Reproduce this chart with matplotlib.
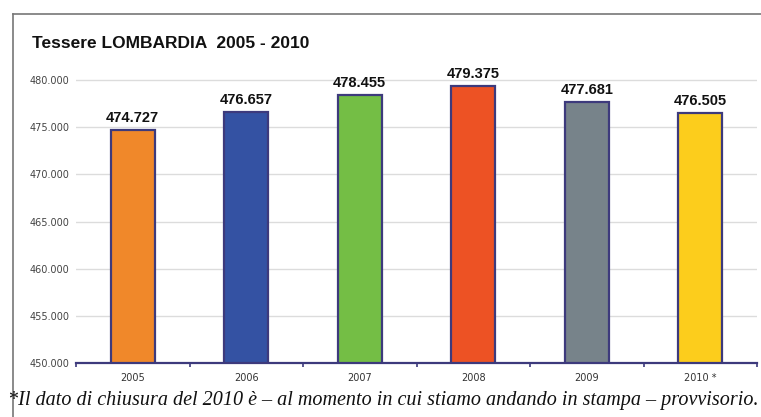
import matplotlib.pyplot as plt
from matplotlib.lines import Line2D
from matplotlib.ticker import FuncFormatter

years = ["2005", "2006", "2007", "2008", "2009", "2010 *"]
tessere = [474727, 476657, 478455, 479375, 477681, 476505]
bar_colors = ["#f0882a", "#3452a3", "#74be45", "#ed5224", "#77838a", "#fccd1c"]
y_ticks = [450000, 455000, 460000, 465000, 470000, 475000, 480000]
caption = ("*Il dato di chiusura del 2010 è \u2013 al momento in cui stiamo "
           "andando in stampa \u2013 provvisorio.")


def it_format(v, pos=None):
    # italian thousands separator
    return f"{int(v):,}".replace(",", ".")


def main():
    fig = plt.figure(figsize=(7.61, 4.17), dpi=100)
    W, H = 761, 417

    # axes placed in pixel coords: x 76..757, y(bottom)=363, 482000 at top
    px_per_unit = (363 - 80) / 30000
    top_px = 80 - 2000 * px_per_unit
    ax = fig.add_axes([76 / W, 1 - 363 / H, (757 - 76) / W, (363 - top_px) / H])

    x = list(range(len(years)))
    ax.bar(x, [v - 450000 for v in tessere], bottom=450000, width=0.39,
           color=bar_colors, edgecolor="#3d3a7c", linewidth=1.6, zorder=3)

    for xi, v in zip(x, tessere):
        ax.text(xi, v + 500, it_format(v), ha="center", va="bottom",
                fontsize=10.5, fontweight="bold", color="#111111",
                family="Liberation Sans")

    ax.set_xlim(-0.5, len(years) - 0.5)
    ax.set_ylim(450000, 482000)
    ax.set_yticks(y_ticks)
    ax.yaxis.set_major_formatter(FuncFormatter(it_format))
    ax.grid(axis="y", color="#dcdcdc", linewidth=1.0, zorder=0)

    ax.set_xticks([i - 0.5 for i in range(len(years) + 1)], minor=False)
    ax.set_xticklabels([])
    ax.set_xticks(x, minor=True)
    ax.set_xticklabels(years, minor=True)
    ax.tick_params(axis="x", which="major", direction="out", length=3,
                   width=1.2, color="#3d3a7c")
    ax.tick_params(axis="x", which="minor", length=0, pad=7,
                   labelsize=7, labelcolor="#333333")
    ax.tick_params(axis="y", length=0, pad=4.5, labelsize=7, labelcolor="#444444")

    for s in ["top", "right", "left"]:
        ax.spines[s].set_visible(False)
    ax.spines["bottom"].set_color("#3d3a7c")
    ax.spines["bottom"].set_linewidth(1.6)

    fig.text(32 / W, 1 - 44 / H, "Tessere LOMBARDIA  2005 - 2010",
             fontsize=12.5, fontweight="bold", family="Liberation Sans",
             ha="left", va="center", color="#111111")

    cap = fig.text(8 / W, 1 - 401 / H, caption,
                   fontsize=13, style="italic", family="Liberation Serif",
                   ha="left", va="center", color="#111111")
    # shrink/grow the caption so it spans about 745 px like the reference
    renderer = fig.canvas.get_renderer()
    w = cap.get_window_extent(renderer).width
    cap.set_fontsize(13 * 745 / w)

    # frame lines of the box
    fig.add_artist(Line2D([13 / W, 13 / W], [1 - 14 / H, 0], color="#777777",
                          linewidth=1.2, transform=fig.transFigure))
    fig.add_artist(Line2D([13 / W, 1], [1 - 14 / H, 1 - 14 / H], color="#777777",
                          linewidth=1.2, transform=fig.transFigure))

    fig.savefig("out.png", dpi=100)


if __name__ == "__main__":
    main()
